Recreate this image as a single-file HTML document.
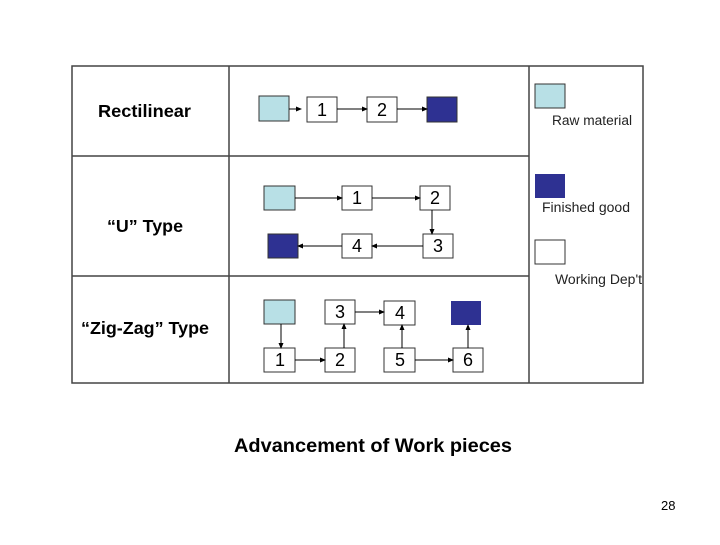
<!DOCTYPE html>
<html><head><style>
body{margin:0;width:720px;height:540px;background:#fff;overflow:hidden}
text{font-family:"Liberation Sans",Arial,sans-serif}
</style></head><body>
<svg width="720" height="540" xmlns="http://www.w3.org/2000/svg">
<defs><marker id="a" markerWidth="6" markerHeight="6" refX="5" refY="3" orient="auto" markerUnits="userSpaceOnUse"><path d="M0,0.5 L6,3 L0,5.5z" fill="#000"/></marker></defs>
<g fill="none" stroke="#444" stroke-width="1.5">
<rect x="72" y="66" width="571" height="317"/>
<line x1="229" y1="66" x2="229" y2="383"/>
<line x1="529" y1="66" x2="529" y2="383"/>
<line x1="72" y1="156" x2="529" y2="156"/>
<line x1="72" y1="276" x2="529" y2="276"/>
</g>
<g font-weight="bold" font-size="17.5" fill="#000">
<text x="98" y="117" textLength="93" lengthAdjust="spacingAndGlyphs">Rectilinear</text>
<text x="107" y="232" textLength="76" lengthAdjust="spacingAndGlyphs">“U” Type</text>
<text x="81" y="334" textLength="128" lengthAdjust="spacingAndGlyphs">“Zig-Zag” Type</text>
<text x="234" y="452" font-size="19.5" textLength="278" lengthAdjust="spacingAndGlyphs">Advancement of Work pieces</text>
</g>
<g stroke="#333" stroke-width="1">
<rect x="259" y="96" width="30" height="25" fill="#b8e0e6"/>
<rect x="427" y="97" width="30" height="25" fill="#2e3192"/>
<rect x="264" y="186" width="31" height="24" fill="#b8e0e6"/>
<rect x="268" y="234" width="30" height="24" fill="#2e3192"/>
<rect x="264" y="300" width="31" height="24" fill="#b8e0e6"/>
<rect x="451" y="301" width="30" height="24" fill="#2e3192" stroke="none"/>
<rect x="535" y="84" width="30" height="24" fill="#b8e0e6"/>
<rect x="535" y="174" width="30" height="24" fill="#2e3192" stroke="none"/>
<rect x="535" y="240" width="30" height="24" fill="#fff"/>
<g fill="#fff">
<rect x="307" y="97" width="30" height="25"/><rect x="367" y="97" width="30" height="25"/>
<rect x="342" y="186" width="30" height="24"/><rect x="420" y="186" width="30" height="24"/>
<rect x="423" y="234" width="30" height="24"/><rect x="342" y="234" width="30" height="24"/>
<rect x="325" y="300" width="30" height="24"/><rect x="384" y="301" width="31" height="24"/>
<rect x="264" y="348" width="31" height="24"/><rect x="325" y="348" width="30" height="24"/>
<rect x="384" y="348" width="31" height="24"/><rect x="453" y="348" width="30" height="24"/>
</g></g>
<g font-size="18" fill="#000" text-anchor="middle">
<text x="322" y="116">1</text><text x="382" y="116">2</text>
<text x="357" y="204">1</text><text x="435" y="204">2</text>
<text x="438" y="252">3</text><text x="357" y="252">4</text>
<text x="340" y="318">3</text><text x="400" y="319">4</text>
<text x="280" y="366">1</text><text x="340" y="366">2</text>
<text x="400" y="366">5</text><text x="468" y="366">6</text>
</g>
<g stroke="#000" stroke-width="1" marker-end="url(#a)">
<line x1="289" y1="109" x2="301" y2="109"/><line x1="337" y1="109" x2="367" y2="109"/><line x1="397" y1="109" x2="427" y2="109"/>
<line x1="295" y1="198" x2="342" y2="198"/><line x1="372" y1="198" x2="420" y2="198"/>
<line x1="432" y1="210" x2="432" y2="234"/>
<line x1="423" y1="246" x2="372" y2="246"/><line x1="342" y1="246" x2="298" y2="246"/>
<line x1="281" y1="324" x2="281" y2="348"/><line x1="295" y1="360" x2="325" y2="360"/>
<line x1="344" y1="348" x2="344" y2="324"/><line x1="355" y1="312" x2="384" y2="312"/>
<line x1="402" y1="348" x2="402" y2="325"/><line x1="415" y1="360" x2="453" y2="360"/>
<line x1="468" y1="348" x2="468" y2="325"/>
</g>
<g font-size="13.5" fill="#222">
<text x="552" y="125" textLength="80" lengthAdjust="spacingAndGlyphs">Raw material</text>
<text x="542" y="212" textLength="88" lengthAdjust="spacingAndGlyphs">Finished good</text>
<text x="555" y="284" textLength="87" lengthAdjust="spacingAndGlyphs">Working Dep't</text>
</g>
<text x="661" y="510" font-size="13" fill="#000">28</text>
</svg>
</body></html>
